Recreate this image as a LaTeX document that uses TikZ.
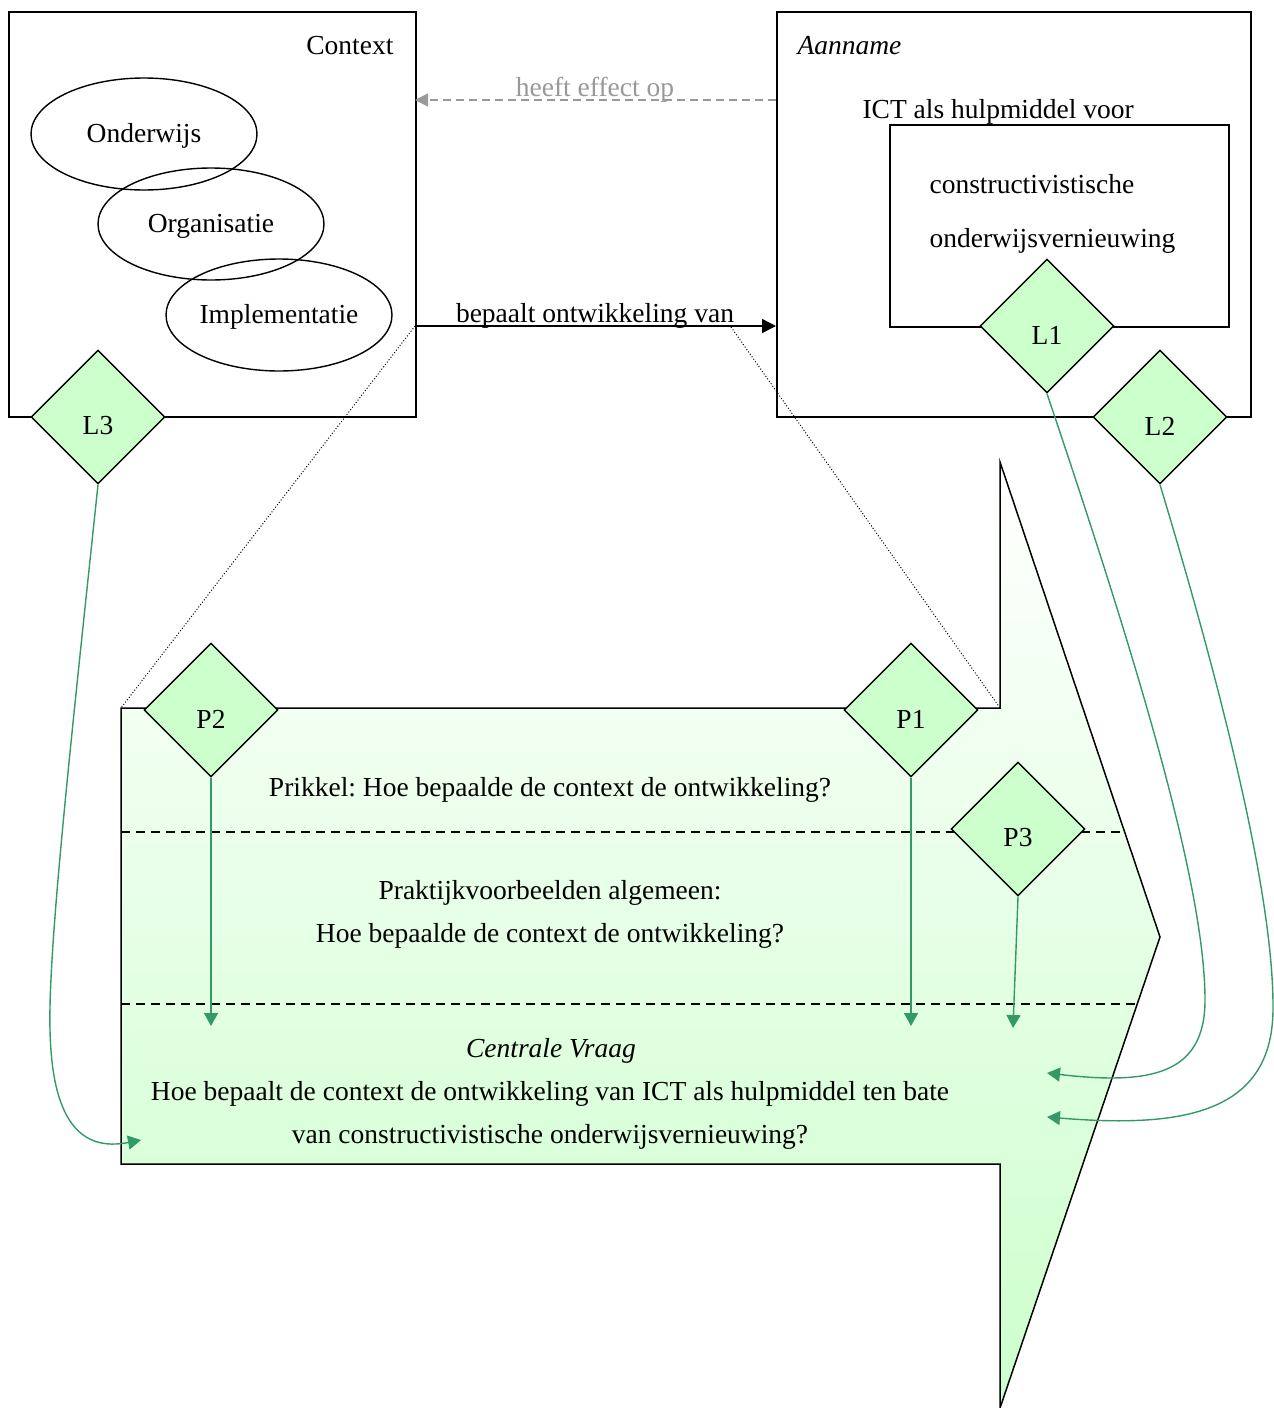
\documentclass[tikz,border=0pt]{standalone}
\usepackage{fontspec}
\setmainfont{Liberation Serif}
\usetikzlibrary{shapes.geometric,arrows.meta}
\definecolor{lgreen}{HTML}{CCFFCC}
\definecolor{sgreen}{HTML}{339966}
\definecolor{gtext}{HTML}{999999}
\frenchspacing
\begin{document}
\begin{tikzpicture}[x=1pt,y=-1pt,
  every node/.style={font=\fontsize{27.5}{33}\selectfont},
  box/.style={draw,line width=1.5pt},
  ell/.style={draw,ellipse,line width=1.4pt,minimum width=226pt,minimum height=112pt,inner sep=0pt},
  dia/.style={draw,diamond,fill=lgreen,line width=1.4pt,minimum width=134pt,minimum height=134pt,inner sep=0pt,aspect=1},
  dlbl/.style={label={[yshift=-9pt]center:#1}},
  garrow/.style={draw=sgreen,line width=1.4pt,-{Triangle[length=13pt,width=14pt]}},
  sep/.style={line width=1.5pt,dash pattern=on 9pt off 6pt}]
\useasboundingbox (0,0) rectangle (1274,1408);

% boxes
\node[box,minimum width=407pt,minimum height=405pt,anchor=north west,inner sep=0pt] (ctx) at (8,11) {};
\node[box,minimum width=474pt,minimum height=405pt,anchor=north west,inner sep=0pt] (aan) at (776,11) {};
\node[box,minimum width=339pt,minimum height=202pt,anchor=north west,inner sep=0pt] (inner) at (889,124) {};

\node[anchor=east] (ctxlbl) at (397,46) {Context};
\node[anchor=west] (aanlbl) at (794,46) {\itshape Aanname};
\node[anchor=west] (ictlbl) at (859,112) {ICT als hulpmiddel voor};
\node[anchor=west] (con1) at (926,184) {constructivistische};
\node[anchor=west] (con2) at (926,241) {onderwijsvernieuwing};

\node[ell] (ond) at (144,134) {};
\node[ell] (org) at (211,224) {};
\node[ell] (imp) at (279,315) {};
\node (ondl) at (144,136) {Onderwijs};
\node (orgl) at (211,226) {Organisatie};
\node (impl) at (279,317) {Implementatie};

% connectors between boxes
\coordinate (effA) at (776,100);
\coordinate (effB) at (415,100);
\draw[gtext,line width=1.4pt,dash pattern=on 8pt off 5pt,-{Triangle[length=13pt,width=13pt]}] (effA) -- (effB);
\node[text=gtext] (efflbl) at (595,90) {heeft effect op};

\coordinate (bepA) at (415,326);
\coordinate (bepB) at (776,326);
\draw[line width=1.5pt,-{Triangle[length=14pt,width=14pt]}] (bepA) -- (bepB);
\node (beplbl) at (595,316) {bepaalt ontwikkeling van};

% big arrow shape
\coordinate (s1) at (121,708);
\coordinate (s2) at (1000,708);
\coordinate (s3) at (1000,462);
\coordinate (s4) at (1160,937);
\coordinate (s5) at (1000,1408);
\coordinate (s6) at (1000,1164);
\coordinate (s7) at (121,1164);
\shade[top color=white,bottom color=lgreen] (s1) -- (s2) -- (s3) -- (s4) -- (s5) -- (s6) -- (s7) -- cycle;
\draw[line width=1.5pt,line join=miter] (s1) -- (s2) -- (s3) -- (s4) -- (s5) -- (s6) -- (s7) -- cycle;

% dotted zoom lines
\coordinate (dr) at (731,327);
\draw[line width=1pt,dotted] (bepA) -- (s1);
\draw[line width=1pt,dotted] (dr) -- (s2);

% separators
\draw[sep] (121,832) -- (1124,832);
\draw[sep] (121,1004) -- (1137,1004);

% texts
\node (prik) at (550,790) {Prikkel: Hoe bepaalde de context de ontwikkeling?};
\node (prak1) at (550,893) {Praktijkvoorbeelden algemeen:};
\node (prak2) at (550,936) {Hoe bepaalde de context de ontwikkeling?};
\node (cv) at (551,1051) {\itshape Centrale Vraag};
\node (cv1) at (550,1094) {Hoe bepaalt de context de ontwikkeling van ICT als hulpmiddel ten bate};
\node (cv2) at (550,1137) {van constructivistische onderwijsvernieuwing?};

% diamonds
\node[dia,dlbl=L3] (L3) at (98,417) {};
\node[dia,dlbl=L1] (L1) at (1047,326) {};
\node[dia,dlbl=L2] (L2) at (1160,417) {};
\node[dia,dlbl=P2] (P2) at (211,710) {};
\node[dia,dlbl=P1] (P1) at (911,710) {};
\node[dia,dlbl=P3] (P3) at (1018,829) {};

% green connectors
\coordinate (t2) at (211,1026);
\coordinate (t1) at (911,1026);
\coordinate (t3) at (1013,1028);
\draw[garrow] (P2.south) -- (t2);
\draw[garrow] (P1.south) -- (t1);
\draw[garrow] (P3.south) -- (t3);

\coordinate (tL3) at (141,1140);
\coordinate (tL1) at (1047,1073);
\coordinate (tL2) at (1047,1117);
\draw[garrow] (L3.south) .. controls (70,750) and (48,950) .. (50,1030) .. controls (52,1120) and (80,1152) .. (tL3);
\draw[garrow] (L1.south) .. controls (1130,640) and (1205,880) .. (1205,1000) .. controls (1205,1075) and (1150,1085) .. (tL1);
\draw[garrow] (L2.south) .. controls (1225,700) and (1274,900) .. (1273,1010) .. controls (1272,1115) and (1180,1128) .. (tL2);
\end{tikzpicture}
\end{document}
